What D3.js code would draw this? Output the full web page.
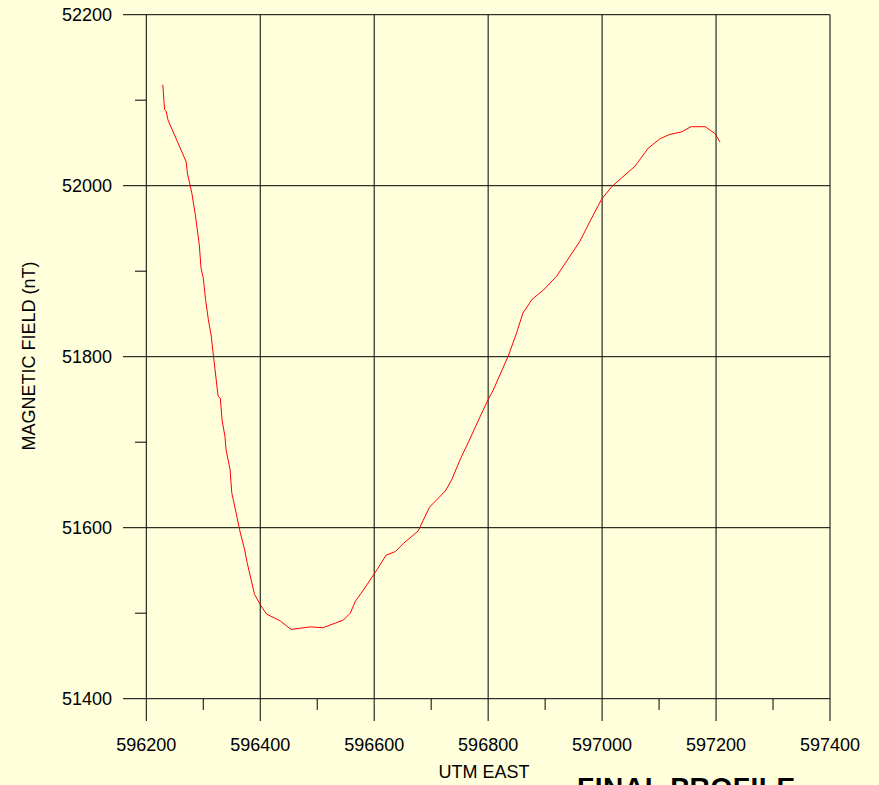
<!DOCTYPE html>
<html>
<head>
<meta charset="utf-8">
<script src="https://cdn.jsdelivr.net/npm/d3@7"></script>
<style>
  html, body { margin: 0; padding: 0; background: #ffffdc; overflow: hidden; }
  svg { display: block; font-family: 'Liberation Sans', Arial, sans-serif; }
</style>
</head>
<body>
<div id="chart"></div>
<script>
// profile data
const utmEast = [
    596229, 596232, 596235, 596238, 596270, 596272, 596276, 596280, 596286, 596293,
    596296, 596300, 596304, 596309, 596314, 596318, 596326, 596330, 596333, 596338,
    596340, 596347, 596350, 596359, 596365, 596372, 596377, 596390, 596400, 596411,
    596435, 596454, 596488, 596510, 596546, 596558, 596567, 596581, 596605, 596621,
    596637, 596652, 596677, 596697, 596725, 596736, 596751, 596766, 596786, 596800,
    596809, 596836, 596850, 596861, 596877, 596897, 596920, 596938, 596961, 596980,
    596999, 597017, 597058, 597081, 597102, 597119, 597140, 597156, 597181, 597198,
    597207
];
const magField = [
    52118, 52089, 52087, 52077, 52028, 52015, 52003, 51991, 51966, 51931,
    51904, 51892, 51867, 51843, 51824, 51800, 51754, 51751, 51726, 51707,
    51691, 51668, 51641, 51613, 51594, 51576, 51559, 51522, 51510, 51499,
    51491, 51481, 51484, 51483, 51492, 51500, 51514, 51527, 51551, 51568,
    51572, 51582, 51596, 51624, 51643, 51656, 51680, 51701, 51730, 51750,
    51761, 51802, 51828, 51851, 51867, 51878, 51894, 51912, 51935, 51960,
    51984, 51999, 52023, 52044, 52055, 52060, 52063, 52069, 52069, 52061,
    52051
];
const xTicks = [596200, 596400, 596600, 596800, 597000, 597200, 597400];
const xMinorTicks = [596300, 596500, 596700, 596900, 597100, 597300];
const yTicks = [51400, 51600, 51800, 52000, 52200];
const yMinorTicks = [51500, 51700, 51900, 52100];

const width = 879;
const height = 785;

const xScale = d3.scaleLinear().domain([596200, 597400]).range([146.3, 830]);
const yScale = d3.scaleLinear().domain([51400, 52200]).range([698.7, 14.7]);

const svg = d3.select('#chart')
    .append('svg')
    .attr('width', width)
    .attr('height', height);

svg.append('rect')
    .attr('width', width)
    .attr('height', height)
    .attr('fill', '#ffffdc');

// horizontal grid (extends past the axis as the major tick)
svg.append('g')
    .selectAll('line')
    .data(yTicks)
    .join('line')
    .attr('x1', 123)
    .attr('x2', xScale(597400))
    .attr('y1', d => yScale(d))
    .attr('y2', d => yScale(d))
    .attr('stroke', '#000')
    .attr('stroke-width', 1);

// vertical grid (extends below the axis as the major tick)
svg.append('g')
    .selectAll('line')
    .data(xTicks)
    .join('line')
    .attr('x1', d => xScale(d))
    .attr('x2', d => xScale(d))
    .attr('y1', yScale(52200))
    .attr('y2', 721)
    .attr('stroke', '#000')
    .attr('stroke-width', 1);

// minor ticks
svg.append('g')
    .selectAll('line')
    .data(yMinorTicks)
    .join('line')
    .attr('x1', 135)
    .attr('x2', xScale(596200))
    .attr('y1', d => yScale(d))
    .attr('y2', d => yScale(d))
    .attr('stroke', '#000');

svg.append('g')
    .selectAll('line')
    .data(xMinorTicks)
    .join('line')
    .attr('x1', d => xScale(d))
    .attr('x2', d => xScale(d))
    .attr('y1', yScale(51400))
    .attr('y2', 710)
    .attr('stroke', '#000');

// tick labels
svg.append('g')
    .selectAll('text')
    .data(yTicks)
    .join('text')
    .attr('x', 112)
    .attr('y', d => yScale(d))
    .attr('dy', '0.35em')
    .attr('text-anchor', 'end')
    .style('font-size', '18px')
    .attr('fill', '#000')
    .text(d => d);

svg.append('g')
    .selectAll('text')
    .data(xTicks)
    .join('text')
    .attr('x', d => xScale(d))
    .attr('y', 751)
    .attr('text-anchor', 'middle')
    .style('font-size', '18px')
    .attr('fill', '#000')
    .text(d => d);

// axis titles
svg.append('text')
    .attr('x', 484)
    .attr('y', 778)
    .attr('text-anchor', 'middle')
    .style('font-size', '18px')
    .text('UTM EAST');

svg.append('text')
    .attr('transform', 'translate(35, 356) rotate(-90)')
    .attr('text-anchor', 'middle')
    .style('font-size', '18px')
    .text('MAGNETIC FIELD (nT)');

// title sits at the bottom edge, cut off as in the original
svg.append('text')
    .attr('x', 577)
    .attr('y', 797)
    .style('font-size', '28px')
    .style('font-weight', 'bold')
    .style('letter-spacing', '0.6px')
    .text('FINAL PROFILE');

// profile line
const line = d3.line()
    .x((d, i) => xScale(utmEast[i]))
    .y(d => yScale(d));

svg.append('path')
    .attr('fill', 'none')
    .attr('stroke', '#ff0000')
    .attr('stroke-width', 1)
    .attr('d', line(magField));
</script>
</body>
</html>
